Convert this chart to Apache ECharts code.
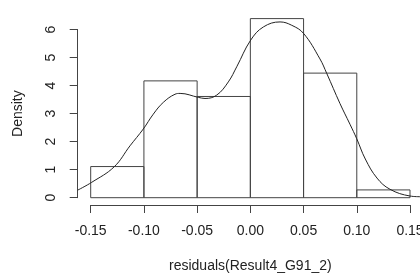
<!DOCTYPE html>
<html><head><meta charset="utf-8">
<script src="https://cdn.jsdelivr.net/npm/echarts@6/dist/echarts.min.js"></script>
<style>html,body{margin:0;padding:0;background:#fff}#c{width:420px;height:275px}</style>
</head><body><div id="c"></div>
<script>
// Histogram bins (break edges) and densities
var binStart = [-0.15, -0.10, -0.05, 0.00, 0.05, 0.10];
var binEnd   = [-0.10, -0.05, 0.00, 0.05, 0.10, 0.15];
var density  = [1.111, 4.167, 3.611, 6.389, 4.444, 0.278];
// Kernel density curve
var kdeX = [-0.1622,-0.149,-0.128,-0.1131,-0.1006,-0.0912,-0.0818,-0.0708,-0.066,-0.0489,-0.0426,-0.0316,-0.0207,-0.0128,0.0003,0.0122,0.0279,0.0389,0.05,0.0654,0.0717,0.0842,0.0936,0.1,0.108,0.119,0.1312,0.15,0.1594];
var kdeY = [0.27,0.55,1.1,1.85,2.45,2.98,3.40,3.69,3.72,3.58,3.54,3.66,4.13,4.67,5.62,6.09,6.27,6.15,5.86,4.95,4.44,3.36,2.62,2.1,1.38,0.70,0.30,0.06,0.035];
var xTicks = [-0.15, -0.10, -0.05, 0.00, 0.05, 0.10, 0.15];
var yTicks = [0, 1, 2, 3, 4, 5, 6];
var xName = 'residuals(Result4_G91_2)';
var yName = 'Density';
// plot region extends 4% beyond the breaks (R style)
var xPad = 0.04 * (xTicks[xTicks.length-1] - xTicks[0]);

var histData = binStart.map(function(s, i){ return [s, binEnd[i], density[i]]; });
var lineData = kdeX.map(function(x, i){ return [x, kdeY[i]]; });
var FONT = 'Liberation Sans, Arial, sans-serif';
var AX = '#444';

var L = 90.7, R = 410, T = 29.5, B = 197.7;
var pxPerUnit = (R - L) / (xTicks[xTicks.length-1] - xTicks[0]);

var chart = echarts.init(document.getElementById('c'));
chart.setOption({
  animation: false,
  grid: [
    {left: L, width: R - L, top: T, height: B - T, containLabel: false, outerBoundsMode: 'none'},
    {left: L - xPad * pxPerUnit, width: (R - L) + 2 * xPad * pxPerUnit, top: T, height: B - T, containLabel: false, outerBoundsMode: 'none'}
  ],
  xAxis: [{
    type: 'value', gridIndex: 0, min: xTicks[0], max: xTicks[xTicks.length-1], interval: 0.05,
    offset: 7.3,
    name: xName, nameLocation: 'middle', nameGap: 54,
    nameTextStyle: {fontFamily: FONT, fontSize: 14, color: '#222'},
    axisLine: {onZero: false, lineStyle: {color: AX, width: 1}},
    axisTick: {length: 8, lineStyle: {color: AX}},
    axisLabel: {fontFamily: FONT, fontSize: 14, color: '#222', margin: 19,
      formatter: function(v){ return (Math.abs(v) < 1e-9 ? 0 : v).toFixed(2); }},
    splitLine: {show: false}
  }, {
    type: 'value', gridIndex: 1, min: xTicks[0] - xPad, max: xTicks[xTicks.length-1] + xPad, show: false
  }],
  yAxis: [{
    type: 'value', gridIndex: 0, min: yTicks[0], max: yTicks[yTicks.length-1], interval: 1,
    offset: 13,
    name: yName, nameLocation: 'middle', nameGap: 53,
    nameTextStyle: {fontFamily: FONT, fontSize: 14, color: '#222'},
    axisLine: {show: true, onZero: false, lineStyle: {color: AX, width: 1}},
    axisTick: {show: true, length: 8, lineStyle: {color: AX}},
    axisLabel: {fontFamily: FONT, fontSize: 14, color: '#222', margin: 20, rotate: 90},
    splitLine: {show: false}
  }, {
    type: 'value', gridIndex: 1, min: yTicks[0], max: yTicks[yTicks.length-1], show: false
  }],
  series: [
    {
      type: 'custom', clip: false, xAxisIndex: 0, yAxisIndex: 0, data: histData,
      renderItem: function(params, api){
        var p0 = api.coord([api.value(0), api.value(2)]);
        var p1 = api.coord([api.value(1), 0]);
        return {type: 'rect', shape: {x: p0[0], y: p0[1], width: p1[0]-p0[0], height: p1[1]-p0[1]},
          style: {fill: 'none', stroke: '#444', lineWidth: 1}};
      }
    },
    {
      type: 'line', clip: false, xAxisIndex: 1, yAxisIndex: 1, data: lineData, smooth: 0.4,
      showSymbol: false, symbol: 'none',
      lineStyle: {color: '#222', width: 1}
    }
  ]
});
</script></body></html>
